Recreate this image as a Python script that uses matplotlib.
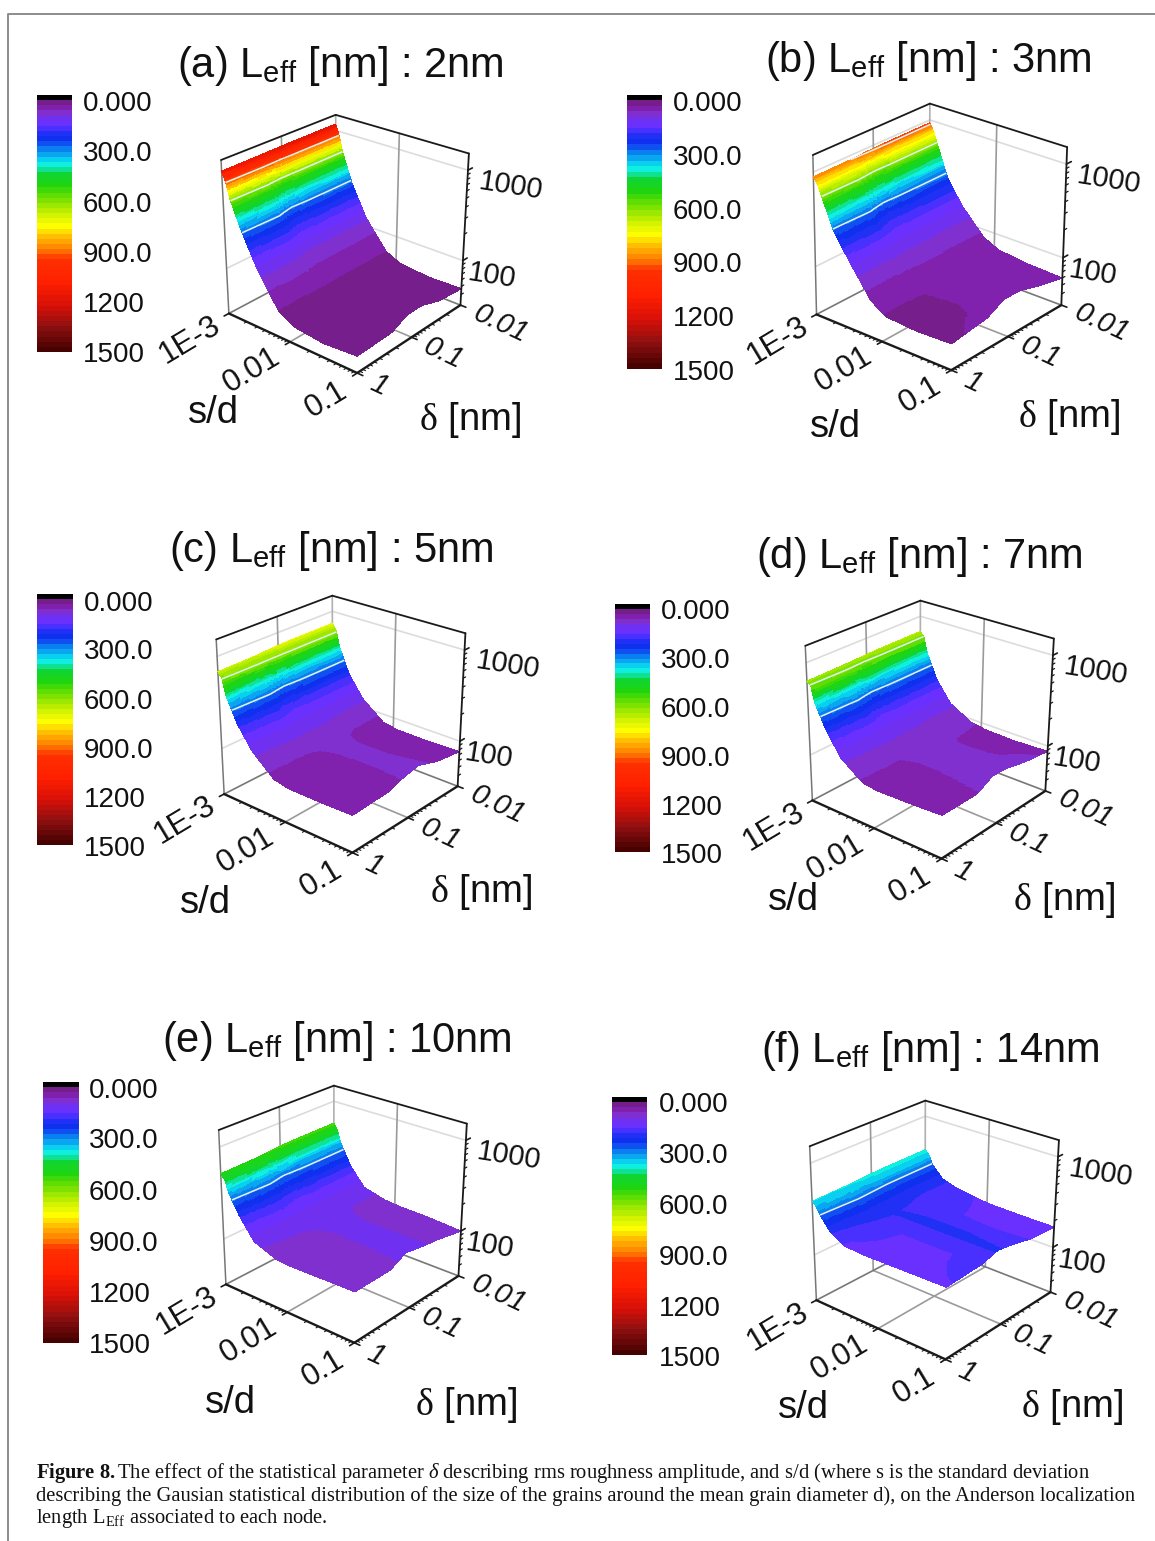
import numpy as np
import matplotlib
matplotlib.use('Agg')
import matplotlib.pyplot as plt
from matplotlib.colors import LinearSegmentedColormap, ListedColormap, BoundaryNorm
from matplotlib.lines import Line2D
from mpl_toolkits.mplot3d import proj3d

W, H = 1155, 1541
plt.rcParams['font.family'] = ['Liberation Sans', 'DejaVu Sans']
plt.rcParams['mathtext.fontset'] = 'custom'
plt.rcParams['mathtext.rm'] = 'Liberation Serif'
plt.rcParams['mathtext.it'] = 'Liberation Serif:italic'
plt.rcParams['mathtext.bf'] = 'Liberation Serif:bold'

s_d = [0.001, 0.00115, 0.0013, 0.0019, 0.0032, 0.0069, 0.0115, 0.032, 0.1]
delta = [0.01, 0.03, 0.066, 0.126, 0.24, 1]

L_a = [[1180, 870, 590, 270, 125, 60, 50, 46, 47],
       [1180, 870, 590, 270, 125, 60, 50, 47, 50],
       [1180, 870, 590, 265, 125, 60, 52, 50, 59],
       [1170, 860, 570, 245, 125, 59, 52, 50, 59],
       [1160, 900, 640, 320, 145, 59, 48, 44, 48],
       [1150, 880, 620, 310, 140, 58, 47, 43, 46]]
L_b = [[930, 770, 590, 270, 150, 82, 68, 62, 60],
       [930, 770, 590, 270, 150, 82, 68, 64, 70],
       [930, 770, 590, 265, 150, 84, 70, 68, 81],
       [920, 750, 570, 250, 150, 84, 70, 68, 81],
       [900, 780, 640, 310, 170, 76, 58, 56, 65],
       [890, 770, 620, 300, 165, 74, 58, 55, 57]]
L_c = [[730, 630, 420, 215, 125, 80, 75, 74, 76],
       [730, 630, 420, 215, 125, 82, 76, 76, 84],
       [730, 630, 415, 212, 130, 98, 94, 95, 100],
       [720, 620, 395, 195, 130, 96, 92, 90, 92],
       [700, 630, 440, 240, 138, 82, 76, 76, 80],
       [690, 610, 410, 225, 130, 80, 74, 74, 76]]
L_d = [[670, 590, 400, 210, 125, 92, 86, 84, 87],
       [670, 590, 400, 210, 125, 94, 88, 88, 95],
       [670, 590, 395, 208, 128, 100, 100, 102, 107],
       [660, 580, 380, 190, 128, 100, 98, 100, 110],
       [650, 600, 420, 240, 135, 88, 84, 84, 88],
       [640, 590, 400, 225, 128, 86, 82, 84, 88]]
L_e = [[560, 480, 350, 205, 130, 112, 108, 106, 100],
       [560, 480, 350, 205, 130, 114, 112, 112, 115],
       [560, 480, 345, 202, 140, 130, 125, 125, 123],
       [550, 470, 330, 190, 140, 128, 125, 128, 133],
       [530, 490, 370, 235, 140, 110, 105, 105, 108],
       [520, 470, 350, 215, 130, 105, 102, 104, 106]]
L_f = [[410, 370, 300, 220, 195, 178, 172, 170, 170],
       [410, 370, 300, 220, 195, 190, 178, 174, 178],
       [410, 370, 300, 225, 205, 205, 205, 205, 200],
       [405, 370, 310, 228, 212, 216, 216, 216, 214],
       [395, 375, 320, 235, 205, 178, 178, 178, 190],
       [390, 360, 306, 215, 175, 170, 172, 175, 178]]
all_L = [L_a, L_b, L_c, L_d, L_e, L_f]

titles = ['(a) L$_{\\mathregular{eff}}$ [nm] : 2nm', '(b) L$_{\\mathregular{eff}}$ [nm] : 3nm',
          '(c) L$_{\\mathregular{eff}}$ [nm] : 5nm', '(d) L$_{\\mathregular{eff}}$ [nm] : 7nm',
          '(e) L$_{\\mathregular{eff}}$ [nm] : 10nm', '(f) L$_{\\mathregular{eff}}$ [nm] : 14nm']
bar_labels = ['0.000', '300.0', '600.0', '900.0', '1200', '1500']

# colour scale
cmap_values = [0, 15, 45, 75, 105, 135, 165, 195, 225, 255, 285, 315, 345, 375, 405, 435, 465, 525,
               600, 690, 765, 840, 900, 960, 1100, 1230, 1350, 1500]
cmap_colors = ['#000000', '#000000', '#7a1f90', '#8022ad', '#8030d0', '#7030f0', '#6a30ff', '#4a30ff',
               '#2030f5', '#1030f0', '#1050f0', '#0a80f0', '#0aa8f0', '#0ad0f0', '#10f0e0', '#10e090',
               '#10d530', '#20d510', '#70e000', '#c8f000', '#ffff00', '#ffb000', '#ff8000', '#ff3000',
               '#ff2000', '#d81008', '#901010', '#400000']
smooth = LinearSegmentedColormap.from_list('origin', [(v / 1500, c) for v, c in zip(cmap_values, cmap_colors)], N=1024)
levels = np.arange(0, 1501, 30)
centres = (levels[:-1] + levels[1:]) / 2
cmap = ListedColormap(smooth(centres / 1500))
norm = BoundaryNorm(levels, len(centres))

# camera per panel: elev, azim, roll, focal length, box x, box y, centre x, centre y, size (pixels)
elev = [25.958, 25.491, 25.128, 25.498, 25.375, 25.755]
azim = [-49.893, -50.433, -49.372, -50.378, -49.945, -49.944]
roll = [-0.171, -0.410, -0.009, -0.322, -0.261, -0.372]
focal = [0.707, 1.241, 0.715, 0.726, 0.725, 0.757]
box_x = [1.009, 1.006, 1.014, 1.005, 1.008, 1.013]
box_y = [0.995, 1.010, 1.000, 1.006, 1.002, 1.006]
cam_x = [341.883, 936.119, 337.806, 926.425, 339.574, 930.912]
cam_y = [239.437, 235.903, 719.586, 725.259, 1209.793, 1225.944]
cam_size = [285.308, 297.112, 286.651, 286.642, 285.921, 287.080]

title_pos = [(177, 77), (764.6, 71.7), (169, 561.7), (755.8, 568), (162, 1051.7), (761, 1061.7)]
bar_box = [(37, 71.5, 95, 352), (626.5, 661, 95, 369), (37, 72.6, 594, 845),
           (615, 649.6, 604, 852), (42.5, 78, 1082, 1343), (612, 647, 1097, 1355)]
bar_label_x = [83, 672.6, 84, 661, 89, 658.4]
bar_label_y = [[102, 152, 203, 253, 303, 353], [102, 156, 210, 263, 317, 371], [602, 650, 700, 749, 798, 847],
               [610, 659, 708, 757, 806, 854], [1089, 1139, 1191, 1242, 1293, 1344], [1103, 1154, 1205, 1256, 1307, 1357]]
sd_label = [(213, 413), (835, 427), (205, 903), (793, 900), (230, 1403), (803.5, 1408)]
delta_label = [(470, 420), (1069, 417), (481, 892), (1064, 900), (466.5, 1405), (1072.6, 1407)]

caption = ['$\\mathbf{Figure\\ 8.}$The effect of the statistical parameter $\\delta$ describing rms roughness amplitude, and s/d (where s is the standard deviation',
           'describing the Gausian statistical distribution of the size of the grains around the mean grain diameter d), on the Anderson localization',
           'length L$_{\\mathrm{Eff}}$ associated to each node.']

fig = plt.figure(figsize=(W / 100, H / 100), dpi=100)

def T(x, y, s, **kw):
    fig.text(x / W, 1 - y / H, s, **kw)

fig.add_artist(Line2D([8 / W, 8 / W, 1], [0, 1 - 14 / H, 1 - 14 / H], color='#8c8c8c', lw=1.4))

fine_x = np.linspace(-3, -1, 220)
fine_y = np.linspace(-2, 0, 110)
X, Y = np.meshgrid(fine_x, fine_y)
lx = np.log10(s_d)
ly = np.log10(delta)
z_lo, z_hi = np.log10(30), np.log10(1500)
z_minor = np.log10([40, 50, 60, 70, 80, 90, 200, 300, 400, 500, 600, 700, 800, 900])

for i, L in enumerate(all_L):
    size = cam_size[i]
    ax = fig.add_axes([(cam_x[i] - size / 2) / W, (H - cam_y[i] - size / 2) / H, size / W, size / H],
                      projection='3d', computed_zorder=False)
    ax.view_init(elev[i], azim[i], roll[i])
    ax.set_proj_type('persp', focal_length=focal[i])
    ax.set_box_aspect((box_x[i], box_y[i], 1.0))
    ax.set_xlim(-3, -1); ax.set_ylim(0, -2); ax.set_zlim(z_lo, z_hi)
    ax.set_axis_off()
    M = ax.get_proj()

    def line(a, b, color='#1a1a1a', lw=1.3, z=1):
        ax.plot([a[0], b[0]], [a[1], b[1]], [a[2], b[2]], color=color, lw=lw, zorder=z, clip_on=False, solid_capstyle='round')

    def label(x, y, z, s, **kw):
        # place a flat rotated label at a 3d spot
        px, py, _ = proj3d.proj_transform(x, y, z, M)
        ax.text2D(px, py, s, transform=ax.transData, ha='center', va='center', color='#111111', rotation_mode='anchor', **kw)

    # back walls and floor grid
    for zv in (2, 3):
        line((-3, 0, zv), (-3, -2, zv), '#dcdcdc', 1.2)
        line((-3, -2, zv), (-1, -2, zv), '#dcdcdc', 1.2)
    line((-3, -1, z_lo), (-3, -1, z_hi), '#9a9a9a', 1.2)
    line((-2, -2, z_lo), (-2, -2, z_hi), '#9a9a9a', 1.2)
    line((-2, 0, z_lo), (-2, -2, z_lo), '#9a9a9a', 1.2)
    line((-3, -1, z_lo), (-1, -1, z_lo), '#9a9a9a', 1.2)
    line((-3, 0, z_lo), (-3, -2, z_lo), '#777777', 1.2)
    line((-3, -2, z_lo), (-1, -2, z_lo), '#777777', 1.2)
    line((-3, -2, z_lo), (-3, -2, z_hi), '#b0b0b0', 1.2)
    line((-3, 0, z_lo), (-3, 0, z_hi), '#777777', 1.1)
    line((-3, 0, z_hi), (-3, -2, z_hi))
    line((-3, -2, z_hi), (-1, -2, z_hi))

    # surface, banded like a filled contour
    logL = np.log10(np.array(L, dtype=float))
    by_x = np.array([np.interp(fine_x, lx, row) for row in logL])
    Z = np.array([np.interp(fine_y, ly, by_x[:, j]) for j in range(len(fine_x))]).T
    ax.plot_surface(X, Y, Z, facecolors=cmap(norm(10 ** Z)), rstride=1, cstride=1, shade=False,
                    linewidth=0, antialiased=False, zorder=2)
    ax.contour(X, Y, Z, levels=np.log10([300, 600, 900, 1200]), colors='#e2f2f2', linewidths=1.1, zorder=3)

    # front edges and ticks
    line((-3, 0, z_lo), (-1, 0, z_lo), lw=1.7, z=4)
    line((-1, 0, z_lo), (-1, -2, z_lo), lw=1.7, z=4)
    line((-1, -2, z_lo), (-1, -2, z_hi), lw=1.3, z=4)
    for zv in (2, 3):
        line((-1, -2, zv), (-1, -2.09, zv), lw=1.2, z=4)
    for zv in z_minor:
        line((-1, -2, zv), (-1, -2.05, zv), lw=0.9, z=4)
    for v in (-3, -2, -1):
        line((v, 0, z_lo), (v, 0.08, z_lo), lw=1.2, z=4)
    for v in (0, -1, -2):
        line((-1, v, z_lo), (-0.92, v, z_lo), lw=1.2, z=4)
    for base in (-3, -2):
        for m in (2, 3, 4, 5, 6, 7, 8, 9):
            line((base + np.log10(m), 0, z_lo), (base + np.log10(m), 0.04, z_lo), lw=0.8, z=4)
            line((-1, base + 1 + np.log10(m), z_lo), (-0.96, base + 1 + np.log10(m), z_lo), lw=0.8, z=4)

    # tick labels
    for v, s, off in ((-3, '1E-3', 0.64), (-2, '0.01', 0.64), (-1, '0.1', 0.52)):
        label(v, off, z_lo - 0.07, s, fontsize=22.5, rotation=31)
    for v, s, off in ((-2, '0.01', 0.58), (-1, '0.1', 0.46), (0, '1', 0.3)):
        label(-1 + off, v, z_lo - 0.03, s, fontsize=21, rotation=-25, style='italic')
    label(-0.42, -2, 2.97, '1000', fontsize=21, rotation=-9)
    label(-0.58, -2, 1.95, '100', fontsize=21, rotation=-9)

    # colour bar
    x0, x1, y0, y1 = bar_box[i]
    cax = fig.add_axes([x0 / W, 1 - y1 / H, (x1 - x0) / W, (y1 - y0) / H])
    cax.imshow(centres.reshape(-1, 1), cmap=cmap, norm=norm, aspect='auto', interpolation='bilinear')
    cax.set_axis_off()
    for s, yy in zip(bar_labels, bar_label_y[i]):
        T(bar_label_x[i], yy + 2, s, fontsize=20, ha='left', va='center', color='#111111')

    T(title_pos[i][0], title_pos[i][1], titles[i], fontsize=30, ha='left', va='baseline', color='#111111')
    T(sd_label[i][0], sd_label[i][1], 's/d', fontsize=27.5, ha='center', va='center', color='#111111')
    T(delta_label[i][0], delta_label[i][1], '$\\mathrm{\\delta}$ [nm]', fontsize=27.5, ha='center', va='center', color='#111111')

for line_s, yy in zip(caption, (1473, 1496, 1519)):
    T(36, yy, line_s, fontsize=14.8, family='Liberation Serif', ha='left', va='center', color='#111111')

fig.savefig('out.png', dpi=100)
